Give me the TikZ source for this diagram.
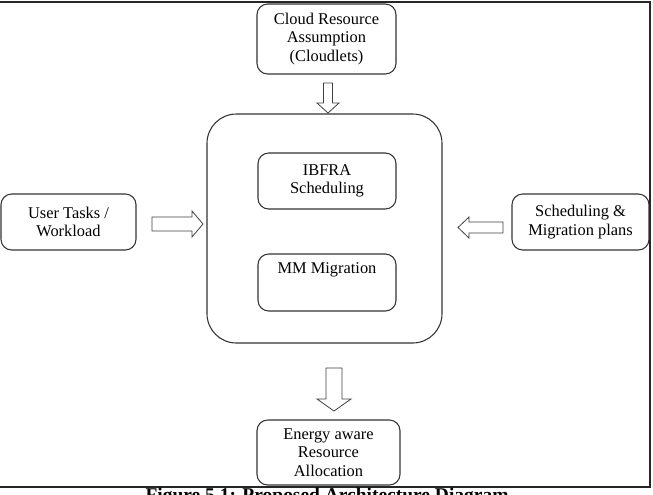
\documentclass[tikz,border=0pt]{standalone}
\usepackage{fontspec}
\setmainfont{Liberation Serif}
\begin{document}
\begin{tikzpicture}[x=0.75pt,y=-0.75pt,
  box/.style={draw=black!80, line width=0.8pt, rounded corners=8pt, inner sep=0pt, align=center, font=\fontsize{12.3}{14}\selectfont},
  bigbox/.style={draw=black!80, line width=0.8pt, rounded corners=22pt, inner sep=0pt},
  lbl/.style={align=center, font=\fontsize{12.3}{14}\selectfont, inner sep=0pt},
  blockarrow/.style={draw=black!75, line width=0.6pt, fill=white, line join=miter},
  frameline/.style={draw=black!85, line width=1.5pt}]
\useasboundingbox (0,0) rectangle (653,494);
\draw[frameline] (0,2) -- (650,2) -- (650,487) -- (0,487);

\node[box, minimum width=104.25pt, minimum height=52.5pt] (cloud) at (326.5,39) {Cloud Resource\\Assumption\\(Cloudlets)};
\node[bigbox, minimum width=176.25pt, minimum height=171.75pt] (core) at (324.5,228.5) {};
\node[box, minimum width=103.5pt, minimum height=42pt] (ibfra) at (327,181) {IBFRA\\Scheduling};
\node[box, minimum width=103.5pt, minimum height=42.75pt] (mm) at (327,282.5) {};
\node[lbl] (mmt) at (327,270) {MM Migration};
\node[box, minimum width=101.25pt, minimum height=42pt] (user) at (68.5,222) {User Tasks /\\Workload};
\node[box, minimum width=102.75pt, minimum height=42pt] (plans) at (580.5,222) {Scheduling \&\\Migration plans};
\node[box, minimum width=107.25pt, minimum height=48.75pt] (energy) at (328.5,452.5) {Energy aware\\Resource\\Allocation};

% block arrows
\draw[blockarrow] (323.5,83) -- (332.5,83) -- (332.5,103) -- (339,103) -- (328,113) -- (317,103) -- (323.5,103) -- cycle;
\draw[blockarrow] (152,217) -- (192,217) -- (192,211) -- (203,224) -- (192,237) -- (192,231) -- (152,231) -- cycle;
\draw[blockarrow] (503,222) -- (469,222) -- (469,217) -- (458,227.5) -- (469,238) -- (469,233) -- (503,233) -- cycle;
\draw[blockarrow] (326,368) -- (342,368) -- (342,399) -- (351,399) -- (334,411) -- (317,399) -- (326,399) -- cycle;

\node[font=\bfseries\fontsize{14.6}{16}\selectfont, anchor=base, inner sep=0pt] (caption) at (327,501) {Figure 5.1: Proposed Architecture Diagram};
\end{tikzpicture}
\end{document}
